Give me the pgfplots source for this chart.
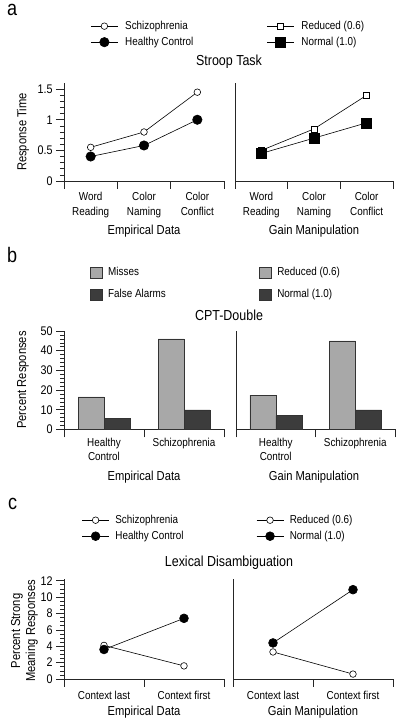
\documentclass[border=0pt]{standalone}
\usepackage{fontspec}
\setmainfont{Liberation Sans}[FakeStretch=0.86]
\usepackage{pgfplots}
\pgfplotsset{compat=1.18}
\newcommand{\fs}[1]{\fontsize{#1bp}{#1bp}\selectfont}
\definecolor{lightbar}{HTML}{A8A8A8}
\definecolor{darkbar}{HTML}{3C3C3C}
\pgfplotsset{
  base/.style={
    scale only axis,
    axis x line*=bottom, axis y line*=left,
    axis line style={line width=0.7bp, black!85},
    tick style={line width=0.6bp, black!85},
    major tick length=8bp, minor tick length=4bp,
    tick align=outside,
    /pgf/number format/assume math mode=true,
    tick label style={font=\fs{12.5}},
    xticklabel style={align=center, font=\fontsize{11.5bp}{14.5bp}\selectfont, text depth=0pt},
    every axis plot/.append style={line width=0.6bp, black},
    clip=false,
    legend style={draw=none, fill=none, inner sep=0pt, font=\fs{11.5}, anchor=north west,
      nodes={inner sep=0pt, anchor=west, text height=8bp, text depth=2bp}, column sep=6bp, row sep=6bp},
    legend cell align=left,
  },
  linelegend/.style={legend image code/.code={\draw[mark repeat=2, mark phase=2, ##1] plot coordinates {(0bp,0bp)(13.5bp,0bp)(27bp,0bp)};}},
  barlegend/.style={legend image code/.code={\draw[fill=##1] (0bp,-5.5bp) rectangle (11.5bp,5.5bp);}},
  noy/.style={ytick=\empty},
}
\begin{document}
\begin{tikzpicture}[x=1bp,y=1bp]
\useasboundingbox (0bp,0bp) rectangle (400bp,724bp);

% ---------------- panel a ----------------
\node[anchor=base west, font=\fs{21}, inner sep=0pt, text height=10bp] at (7bp,708bp) {a};
\node[anchor=base, font=\fs{14.5}, inner sep=0pt] at (229bp,658bp) {Stroop Task};
\node[rotate=90, font=\fs{13}, inner sep=0pt] at (23bp,592bp) {Response Time};
\node[anchor=base, font=\fs{13}, inner sep=0pt] at (144bp,489bp) {Empirical Data};
\node[anchor=base, font=\fs{13}, inner sep=0pt] at (314bp,489bp) {Gain Manipulation};

\begin{axis}[base, linelegend, at={(64bp,543bp)}, anchor=south west, width=160bp, height=98bp,
  xmin=-0.5, xmax=2.5, ymin=0, ymax=1.6,
  xtick={-0.5,0.5,1.5,2.5}, xticklabels={},
  extra x ticks={0,1,2}, extra x tick labels={{Word\\Reading},{Color\\Naming},{Color\\Conflict}},
  extra x tick style={major tick length=0bp, xticklabel style={yshift=-8bp}},
  ytick={0,0.5,1,1.5}, minor y tick num=4,
  legend style={at={(0.165,1.633)}, column sep=7bp}]
\addplot[mark=*, mark size=3.3bp, mark options={fill=white}] coordinates {(0,0.55)(1,0.80)(2,1.45)};
\addlegendentry{Schizophrenia}
\addplot[mark=*, mark size=4.7bp, mark options={fill=black}] coordinates {(0,0.40)(1,0.58)(2,1.00)};
\addlegendentry{Healthy Control}
\end{axis}

\begin{axis}[base, linelegend, noy, at={(235bp,543bp)}, anchor=south west, width=158bp, height=98bp,
  xmin=-0.5, xmax=2.5, ymin=0, ymax=1.6,
  xtick={-0.5,0.5,1.5,2.5}, xticklabels={},
  extra x ticks={0,1,2}, extra x tick labels={{Word\\Reading},{Color\\Naming},{Color\\Conflict}},
  extra x tick style={major tick length=0bp, xticklabel style={yshift=-8bp}},
  legend style={at={(0.2,1.633)}, column sep=7bp}]
\addplot[mark=square*, mark size=3bp, mark options={fill=white}] coordinates {(0,0.50)(1,0.85)(2,1.40)};
\addlegendentry{Reduced (0.6)}
\addplot[mark=square*, mark size=5bp, mark options={fill=black}] coordinates {(0,0.45)(1,0.70)(2,0.95)};
\addlegendentry{Normal (1.0)}
\end{axis}

% ---------------- panel b ----------------
\node[anchor=base west, font=\fs{21}, inner sep=0pt] at (7bp,461bp) {b};
\node[anchor=base, font=\fs{14.5}, inner sep=0pt] at (229bp,403bp) {CPT-Double};
\node[rotate=90, font=\fs{13}, inner sep=0pt] at (23bp,344bp) {Percent Responses};
\node[anchor=base, font=\fs{13}, inner sep=0pt] at (144bp,243bp) {Empirical Data};
\node[anchor=base, font=\fs{13}, inner sep=0pt] at (314bp,243bp) {Gain Manipulation};

\begin{axis}[base, at={(64bp,294.5bp)}, anchor=south west, width=160bp, height=98.5bp,
  ybar, bar width=26bp, barlegend,
  xmin=-0.5, xmax=1.5, ymin=0, ymax=50,
  xtick={-0.5,0.5,1.5}, xticklabels={},
  extra x ticks={0,1}, extra x tick labels={{Healthy\\Control},{Schizophrenia}},
  extra x tick style={major tick length=0bp, xticklabel style={yshift=-5bp}},
  ytick={0,10,...,50}, minor y tick num=4,
  legend style={at={(0.1625,1.65)}, row sep=10bp}]
\addplot[fill=lightbar, draw=black!80, line width=0.5bp, bar shift=-13bp] coordinates {(0,16.5)(1,46)};
\addlegendentry{Misses}
\addplot[fill=darkbar, draw=black!80, line width=0.5bp, bar shift=13bp] coordinates {(0,5.5)(1,10)};
\addlegendentry{False Alarms}
\end{axis}

\begin{axis}[base, noy, at={(236bp,294.5bp)}, anchor=south west, width=159bp, height=98.5bp,
  ybar, bar width=26bp, barlegend,
  xmin=-0.5, xmax=1.5, ymin=0, ymax=50,
  xtick={-0.5,0.5,1.5}, xticklabels={},
  extra x ticks={0,1}, extra x tick labels={{Healthy\\Control},{Schizophrenia}},
  extra x tick style={major tick length=0bp, xticklabel style={yshift=-5bp}},
  legend style={at={(0.145,1.65)}, row sep=10bp}]
\addplot[fill=lightbar, draw=black!80, line width=0.5bp, bar shift=-13bp] coordinates {(0,17.5)(1,45)};
\addlegendentry{Reduced (0.6)}
\addplot[fill=darkbar, draw=black!80, line width=0.5bp, bar shift=13bp] coordinates {(0,7)(1,10)};
\addlegendentry{Normal (1.0)}
\end{axis}

% ---------------- panel c ----------------
\node[anchor=base west, font=\fs{21}, inner sep=0pt] at (8bp,214bp) {c};
\node[anchor=base, font=\fs{14.5}, inner sep=0pt] at (229bp,157bp) {Lexical Disambiguation};
\node[rotate=90, font=\fontsize{13bp}{15bp}\selectfont, inner sep=0pt, align=center] at (24.5bp,93bp) {Percent Strong\\Meaning Responses};
\node[anchor=base, font=\fs{13}, inner sep=0pt] at (144bp,9bp) {Empirical Data};
\node[anchor=base, font=\fs{13}, inner sep=0pt] at (313bp,9bp) {Gain Manipulation};

\begin{axis}[base, linelegend, at={(64bp,45bp)}, anchor=south west, width=160bp, height=100bp,
  xmin=-0.5, xmax=1.5, ymin=0, ymax=12.2,
  xtick={-0.5,0.5,1.5}, xticklabels={},
  extra x ticks={0,1}, extra x tick labels={{Context last},{Context first}},
  extra x tick style={major tick length=0bp, xticklabel style={yshift=-9bp}},
  ytick={0,2,...,12}, minor y tick num=3,
  legend style={at={(0.11,1.64)}}]
\addplot[mark=*, mark size=3.3bp, mark options={fill=white}] coordinates {(0,4.1)(1,1.6)};
\addlegendentry{Schizophrenia}
\addplot[mark=*, mark size=4.4bp, mark options={fill=black}] coordinates {(0,3.6)(1,7.4)};
\addlegendentry{Healthy Control}
\end{axis}

\begin{axis}[base, linelegend, noy, at={(233bp,45bp)}, anchor=south west, width=160bp, height=100bp,
  xmin=-0.5, xmax=1.5, ymin=0, ymax=12.2,
  xtick={-0.5,0.5,1.5}, xticklabels={},
  extra x ticks={0,1}, extra x tick labels={{Context last},{Context first}},
  extra x tick style={major tick length=0bp, xticklabel style={yshift=-9bp}},
  legend style={at={(0.144,1.64)}}]
\addplot[mark=*, mark size=3.3bp, mark options={fill=white}] coordinates {(0,3.3)(1,0.6)};
\addlegendentry{Reduced (0.6)}
\addplot[mark=*, mark size=4.4bp, mark options={fill=black}] coordinates {(0,4.4)(1,10.9)};
\addlegendentry{Normal (1.0)}
\end{axis}
\end{tikzpicture}
\end{document}
